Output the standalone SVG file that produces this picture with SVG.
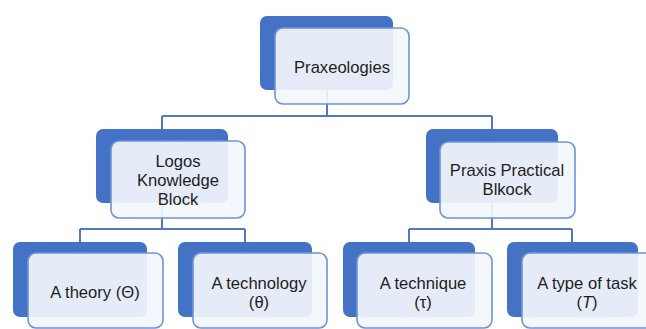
<svg xmlns="http://www.w3.org/2000/svg" width="646" height="329" viewBox="0 0 646 329">
  <style>
    .back { fill: #4472C4; }
    .front { fill: #F3F6FB; fill-opacity: 0.92; stroke: #6F93D8; stroke-width: 1.6; }
    .conn { fill: none; stroke: #4F78C6; stroke-width: 2; }
    text { font-family: "Liberation Sans", Arial, sans-serif; font-size: 16.6px; fill: #1E1E1E; text-anchor: middle; }
  </style>
  <rect width="646" height="329" fill="#FFFFFF"/>
  <g id="connectors">
    <path class="conn" d="M327 90 V116 M162 116 H492 M162 116 V129 M492 116 V129"/>
    <path class="conn" d="M162 203 V229 M80 229 H245 M80 229 V242 M245 229 V242"/>
    <path class="conn" d="M492 203 V229 M409 229 H572 M409 229 V242 M572 229 V242"/>
  </g>
  <g id="praxeologies">
    <rect class="back" x="260" y="16" width="133" height="74" rx="7"/>
    <rect class="front" x="275" y="28" width="134" height="76" rx="8"/>
    <text x="342" y="73">Praxeologies</text>
  </g>
  <g id="logos">
    <rect class="back" x="96" y="129" width="132" height="74" rx="7"/>
    <rect class="front" x="111" y="141" width="134" height="77" rx="8"/>
    <text x="178" y="167">Logos</text>
    <text x="178" y="186">Knowledge</text>
    <text x="178" y="205">Block</text>
  </g>
  <g id="praxis">
    <rect class="back" x="426" y="129" width="132" height="74" rx="7"/>
    <rect class="front" x="440" y="142" width="135" height="76" rx="8"/>
    <text x="507" y="176">Praxis Practical</text>
    <text x="507" y="195">Blkock</text>
  </g>
  <g id="theory">
    <rect class="back" x="13" y="242" width="134" height="75" rx="7"/>
    <rect class="front" x="28" y="253" width="135" height="75" rx="8"/>
    <text x="95" y="298">A theory (Θ)</text>
  </g>
  <g id="technology">
    <rect class="back" x="178" y="242" width="134" height="75" rx="7"/>
    <rect class="front" x="193" y="253" width="134" height="75" rx="8"/>
    <text x="259" y="289">A technology</text>
    <text x="259" y="308">(θ)</text>
  </g>
  <g id="technique">
    <rect class="back" x="343" y="242" width="132" height="75" rx="7"/>
    <rect class="front" x="357" y="253" width="135" height="75" rx="8"/>
    <text x="423" y="289">A technique</text>
    <text x="423" y="308">(τ)</text>
  </g>
  <g id="task">
    <rect class="back" x="507" y="242" width="131" height="75" rx="7"/>
    <rect class="front" x="522" y="253" width="135" height="75" rx="8"/>
    <text x="587" y="289">A type of task</text>
    <text x="587" y="308">(<tspan font-style="italic">T</tspan>)</text>
  </g>
</svg>
